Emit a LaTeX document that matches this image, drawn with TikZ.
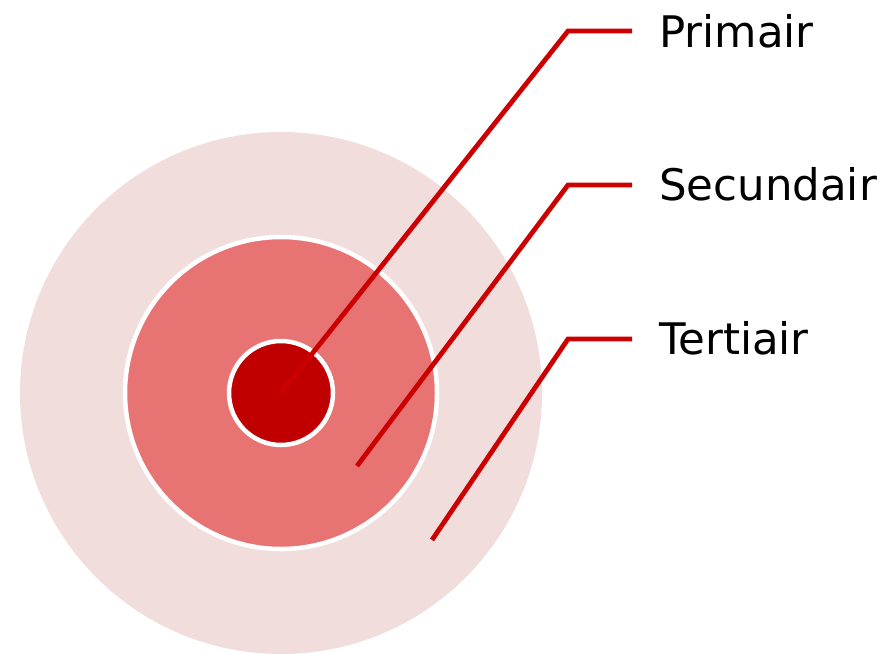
\documentclass[tikz,border=0pt]{standalone}
\usepackage{fontspec}
\setmainfont{DejaVu Sans}
\definecolor{outerc}{HTML}{F2DDDD}
\definecolor{midc}{HTML}{E87373}
\definecolor{innerc}{HTML}{C00000}
\definecolor{linec}{HTML}{CC0000}
\begin{document}
\begin{tikzpicture}[x=1pt,y=-1pt,
  ring/.style={circle,inner sep=0pt,outer sep=0pt},
  leader/.style={draw=linec,line width=4.8pt,line join=miter},
  lbl/.style={anchor=base west,inner sep=0pt,font=\fontsize{43.5}{50}\selectfont}]
\useasboundingbox (0,0) rectangle (893,653);
\clip (0,0) rectangle (893,653);
\node[ring,fill=outerc,minimum size=522pt] (outer) at (281,393) {};
\node[ring,fill=midc,draw=white,line width=4.5pt,minimum size=312pt] (mid) at (281,393) {};
\node[ring,fill=innerc,draw=white,line width=4.5pt,minimum size=104pt] (inner) at (281,393) {};
\coordinate (p0) at (281,393);
\coordinate (p1) at (568,31);
\coordinate (p2) at (632,31);
\coordinate (s0) at (357,466);
\coordinate (s1) at (568,185);
\coordinate (s2) at (632,185);
\coordinate (t0) at (432,540);
\coordinate (t1) at (568,339);
\coordinate (t2) at (632,339);
\draw[leader] (p0) -- (p1) -- (p2);
\draw[leader] (s0) -- (s1) -- (s2);
\draw[leader] (t0) -- (t1) -- (t2);
\node[lbl] (lp) at (659,47) {Primair};
\node[lbl] (ls) at (659,200) {Secundair};
\node[lbl] (lt) at (659,354) {Tertiair};
\end{tikzpicture}
\end{document}
